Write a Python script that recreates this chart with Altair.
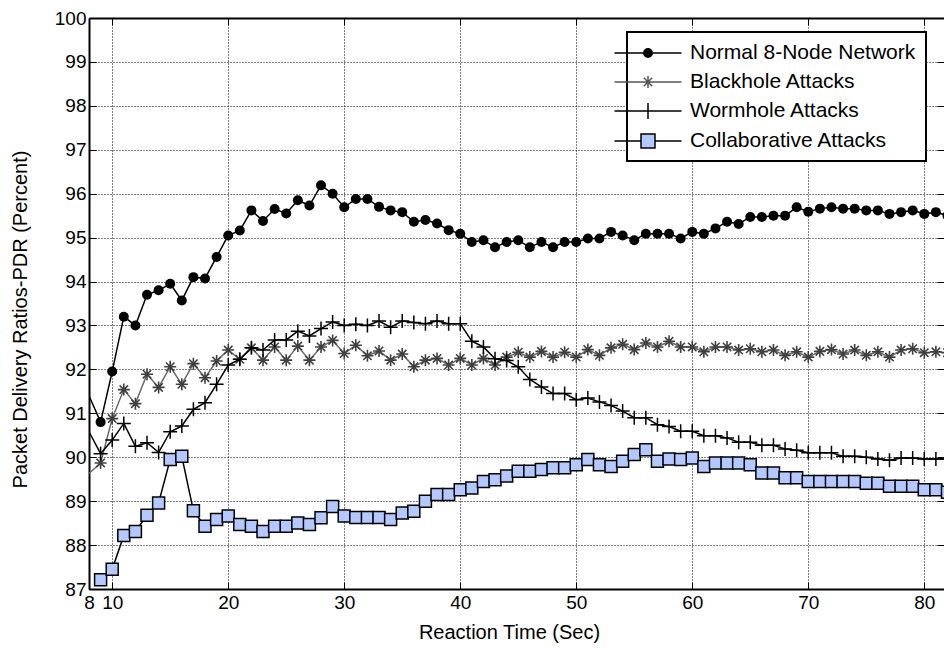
import altair as alt
import pandas as pd

# ---------------- data ----------------
x_vals = list(range(8, 83))

normal = [91.40, 90.80, 91.95, 93.20, 93.00, 93.70, 93.80, 93.95, 93.57, 94.10,
          94.07, 94.56, 95.05, 95.16, 95.62, 95.38, 95.65, 95.55, 95.85, 95.73,
          96.19, 96.00, 95.69, 95.88, 95.88, 95.70, 95.62, 95.58, 95.36, 95.40,
          95.32, 95.17, 95.09, 94.90, 94.94, 94.78, 94.90, 94.94, 94.78, 94.90,
          94.78, 94.90, 94.90, 94.98, 94.98, 95.13, 95.05, 94.94, 95.09, 95.09,
          95.09, 94.98, 95.13, 95.09, 95.21, 95.36, 95.31, 95.47, 95.47, 95.50,
          95.50, 95.69, 95.59, 95.66, 95.69, 95.66, 95.66, 95.62, 95.62, 95.54,
          95.58, 95.62, 95.54, 95.58, 95.50]

blackhole = [89.63, 89.87, 90.88, 91.54, 91.22, 91.89, 91.59, 92.06, 91.66, 92.13,
             91.81, 92.19, 92.44, 92.23, 92.49, 92.21, 92.51, 92.21, 92.53, 92.21,
             92.51, 92.66, 92.36, 92.55, 92.31, 92.42, 92.21, 92.35, 92.06, 92.21,
             92.25, 92.10, 92.25, 92.10, 92.25, 92.10, 92.28, 92.39, 92.28, 92.41,
             92.28, 92.39, 92.28, 92.45, 92.32, 92.49, 92.57, 92.45, 92.60, 92.51,
             92.64, 92.51, 92.51, 92.40, 92.51, 92.51, 92.44, 92.47, 92.40, 92.44,
             92.32, 92.40, 92.28, 92.41, 92.45, 92.35, 92.44, 92.32, 92.40, 92.28,
             92.44, 92.47, 92.38, 92.40, 92.38]

wormhole = [90.58, 90.08, 90.39, 90.77, 90.25, 90.33, 90.11, 90.58, 90.71, 91.09,
            91.24, 91.66, 92.10, 92.23, 92.49, 92.44, 92.67, 92.67, 92.87, 92.76,
            92.93, 93.08, 93.00, 93.03, 93.00, 93.10, 92.96, 93.10, 93.07, 93.04,
            93.10, 93.04, 93.04, 92.64, 92.51, 92.24, 92.20, 92.06, 91.77, 91.60,
            91.45, 91.45, 91.31, 91.35, 91.26, 91.18, 91.05, 90.90, 90.90, 90.74,
            90.70, 90.59, 90.59, 90.49, 90.49, 90.44, 90.34, 90.34, 90.27, 90.27,
            90.19, 90.16, 90.10, 90.10, 90.10, 90.02, 90.02, 90.00, 89.96, 89.93,
            89.98, 89.98, 89.96, 89.96, 89.96]

collab = [None, 87.21, 87.45, 88.22, 88.31, 88.68, 88.96, 89.95, 90.02, 88.78,
          88.43, 88.58, 88.66, 88.47, 88.43, 88.31, 88.43, 88.43, 88.50, 88.47,
          88.62, 88.88, 88.66, 88.63, 88.63, 88.63, 88.58, 88.73, 88.77, 89.00,
          89.15, 89.15, 89.26, 89.30, 89.45, 89.49, 89.57, 89.68, 89.68, 89.72,
          89.76, 89.76, 89.83, 89.95, 89.83, 89.79, 89.91, 90.06, 90.17, 89.91,
          89.96, 89.95, 89.98, 89.79, 89.87, 89.87, 89.87, 89.83, 89.64, 89.64,
          89.53, 89.53, 89.45, 89.45, 89.45, 89.45, 89.45, 89.41, 89.41, 89.34,
          89.34, 89.34, 89.26, 89.26, 89.20]

names = ["Normal 8-Node Network", "Blackhole Attacks", "Wormhole Attacks", "Collaborative Attacks"]
x_ticks = [8, 10, 20, 30, 40, 50, 60, 70, 80]
y_ticks = list(range(87, 101))

# ---------------- tables ----------------
rows = []
for name, vals in zip(names, [normal, blackhole, wormhole, collab]):
    for xv, v in zip(x_vals, vals):
        if v is not None:
            rows.append({"x": xv, "v": v, "s": name})
df = pd.DataFrame(rows)
legend_df = pd.DataFrame({"s": names})

FONT = "Liberation Sans"
xs = alt.Scale(domain=[8, 81.7], nice=False, zero=False)
ys = alt.Scale(domain=[87, 100], nice=False, zero=False)

grid_common = dict(gridDash=[1, 2], gridColor="black", gridWidth=1, gridOpacity=1)

ax_x_main = alt.Axis(orient="bottom", values=x_ticks, title="Reaction Time (Sec)", grid=True,
                     ticks=False, domain=True, domainColor="black", domainWidth=2,
                     labelFont=FONT, labelFontSize=19, labelColor="black", labelPadding=4,
                     labelFlush=False, labelOverlap=False,
                     titleFont=FONT, titleFontSize=20, titleFontWeight="normal", titleColor="black",
                     titleX=420, titleY=43, titleBaseline="middle", titleAlign="center",
                     **grid_common)
ax_y_main = alt.Axis(orient="left", values=y_ticks, title="Packet Delivery Ratios-PDR (Percent)", grid=True,
                     ticks=False, domain=True, domainColor="black", domainWidth=2,
                     labelFont=FONT, labelFontSize=19, labelColor="black", labelPadding=3,
                     labelFlush=False, labelOverlap=False,
                     titleFont=FONT, titleFontSize=20, titleFontWeight="normal", titleColor="black",
                     titleX=-69, titleY=301, titleBaseline="middle", titleAlign="center", titleAngle=270,
                     **grid_common)

def tick_axis(orient, values):
    return alt.Axis(orient=orient, values=values, offset=-7, tickSize=7, ticks=True,
                    tickColor="black", tickWidth=1, domain=False, labels=False, grid=False, title=None)

ax_x_tick_b = tick_axis("bottom", x_ticks)
ax_y_tick_l = tick_axis("left", y_ticks)
ax_x_tick_t = tick_axis("top", x_ticks)
ax_y_tick_r = tick_axis("right", y_ticks)
ax_x_top = alt.Axis(orient="top", values=x_ticks, domain=True, domainColor="black", domainWidth=2,
                    ticks=False, labels=False, grid=False, title=None)

PLUS = "M-1,0L1,0M0,-1L0,1"
STAR = "M-1,0L1,0M0,-1L0,1M-0.7,-0.7L0.7,0.7M-0.7,0.7L0.7,-0.7"

base = alt.Chart(df)

def series(name):
    return base.transform_filter(alt.datum.s == name)

def enc(ax_x, ax_y):
    return dict(x=alt.X("x:Q", scale=xs, axis=ax_x), y=alt.Y("v:Q", scale=ys, axis=ax_y))

n_line = series(names[0]).mark_line(color="black", strokeWidth=1.5, clip=True).encode(**enc(ax_x_main, ax_y_main))
n_pts = series(names[0]).transform_filter(alt.datum.x >= 9).mark_point(
    shape="circle", filled=True, color="black", size=100, opacity=1, clip=True).encode(**enc(ax_x_tick_b, ax_y_tick_l))

b_line = series(names[1]).mark_line(color="#6a6a6a", strokeWidth=1.5, clip=True).encode(**enc(ax_x_top, ax_y_tick_r))
b_pts = series(names[1]).transform_filter(alt.datum.x >= 9).mark_point(
    shape=STAR, filled=False, stroke="#404040", strokeWidth=1.6, size=144, opacity=1, clip=True).encode(**enc(ax_x_tick_t, None))

w_line = series(names[2]).mark_line(color="black", strokeWidth=1.5, clip=True).encode(**enc(None, None))
w_pts = series(names[2]).transform_filter(alt.datum.x >= 9).mark_point(
    shape=PLUS, filled=False, stroke="black", strokeWidth=1.5, size=196, opacity=1, clip=True).encode(**enc(None, None))

c_line = series(names[3]).mark_line(color="black", strokeWidth=1.5, clip=True).encode(**enc(None, None))
c_pts = series(names[3]).mark_point(
    shape="square", filled=True, fill="#b3c8ff", stroke="black", strokeWidth=1.5, size=144, opacity=1,
    clip=True).encode(**enc(None, None))

# legend symbols: line segment + marker
LEG_SHAPES = [
    "M-3.35,0L3.35,0M-0.42,0A0.42,0.42,0,1,0,0.42,0A0.42,0.42,0,1,0,-0.42,0Z",
    "M-3.35,0L3.35,0M0,-0.6L0,0.6M-0.6,0L0.6,0M-0.42,-0.42L0.42,0.42M-0.42,0.42L0.42,-0.42",
    "M-3.35,0L3.35,0M0,-0.8L0,0.8",
    "M-3.35,0L-0.7,0M0.7,0L3.35,0M-0.7,-0.7L0.7,-0.7L0.7,0.7L-0.7,0.7Z",
]
LEG_FILL = ["black", "transparent", "transparent", "#b3c8ff"]
LEG_STROKE = ["black", "#555555", "black", "black"]

def leg():
    return alt.Legend(title=None, orient="none", legendX=538, legendY=14, symbolSize=400,
                      symbolStrokeWidth=1.5, symbolOpacity=1, labelFont=FONT, labelFontSize=21,
                      labelColor="black", labelOffset=31, labelLimit=400, padding=10, rowPadding=8,
                      strokeColor="black", fillColor="white")

legend_layer = alt.Chart(legend_df).mark_point(filled=True, opacity=0).encode(
    color=alt.Color("s:N", scale=alt.Scale(domain=names, range=LEG_FILL), legend=leg()),
    stroke=alt.Stroke("s:N", scale=alt.Scale(domain=names, range=LEG_STROKE), legend=leg()),
    shape=alt.Shape("s:N", scale=alt.Scale(domain=names, range=LEG_SHAPES), legend=leg()),
)

chart = alt.layer(
    n_line, n_pts, b_line, b_pts, w_line, w_pts, c_line, c_pts, legend_layer
).resolve_axis(x="independent", y="independent").properties(
    width=855, height=571,
    autosize=alt.AutoSizeParams(type="none"),
    padding={"left": 89, "top": 18, "right": 0, "bottom": 59},
    background="white",
).configure_view(stroke=None).configure_legend(strokeWidth=2)

chart.save("out.html", embed_options={"renderer": "svg", "actions": False})
